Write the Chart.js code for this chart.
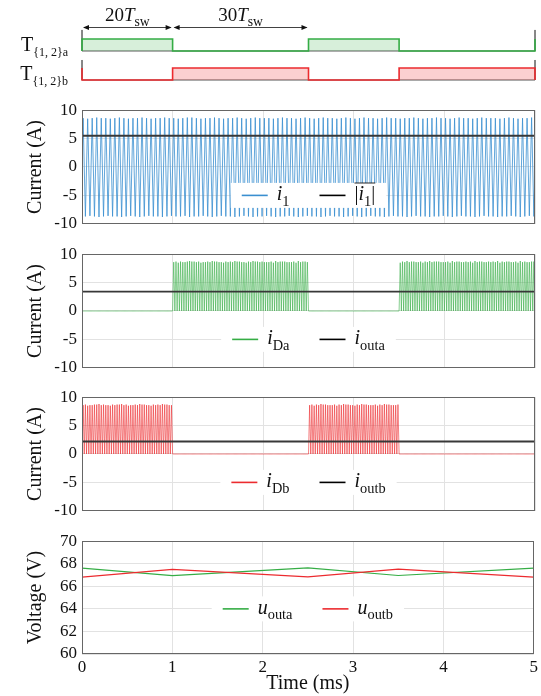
<!DOCTYPE html>
<html>
<head>
<meta charset="utf-8">
<script src="https://cdn.jsdelivr.net/npm/chart.js@4.4.1/dist/chart.umd.min.js"></script>
<style>
body{margin:0;background:#fff;}
#wrap{position:relative;width:541px;height:696px;overflow:hidden;}
canvas{position:absolute;left:0;}
</style>
</head>
<body>
<div id="wrap">
<canvas id="gate" width="541" height="95" style="top:0"></canvas>
<canvas id="c1" width="541" height="144" style="top:95px"></canvas>
<canvas id="c2" width="541" height="144" style="top:239px"></canvas>
<canvas id="c3" width="541" height="144" style="top:382px"></canvas>
<canvas id="c4" width="541" height="170" style="top:526px"></canvas>
</div>
<script>
// ---- data ----
const T_SW = 0.05;                       // ms, 20 T_sw = 1 ms
const timeTicks = [0, 1, 2, 3, 4, 5];
const currentTicks = [-10, -5, 0, 5, 10];
const voltageTicks = [60, 62, 64, 66, 68, 70];

// switch states between the edges (1 = on)
const gateEdges = [0, 1, 2.5, 3.5, 5];
const gateA = [1, 0, 1, 0];
const gateB = [0, 1, 0, 1];

// i1: positive and negative peak of every switching period (A)
const i1Peaks = [
8.6,8.5,8.6,8.7,8.6,8.6,8.5,8.6,8.7,8.6,
8.5,8.6,8.6,8.7,8.6,8.5,8.6,8.6,8.7,8.6,
8.6,8.5,8.6,8.7,8.7,8.6,8.5,8.6,8.6,8.7,
8.6,8.5,8.6,8.6,8.7,8.6,8.5,8.6,8.7,8.6,
8.6,8.6,8.5,8.6,8.7,8.6,8.6,8.5,8.6,8.7,
8.6,8.5,8.6,8.7,8.6,8.6,8.5,8.6,8.7,8.6,
8.5,8.6,8.7,8.6,8.6,8.5,8.6,8.7,8.6,8.6,
8.5,8.6,8.6,8.7,8.6,8.5,8.6,8.6,8.7,8.6,
8.6,8.5,8.6,8.7,8.6,8.6,8.5,8.6,8.7,8.6,
8.6,8.6,8.5,8.6,8.7,8.6,8.5,8.6,8.6,8.7
];
const i1Valleys = [
-8.7,-8.6,-8.7,-8.8,-8.7,-8.6,-8.7,-8.7,-8.8,-8.7,
-8.6,-8.7,-8.8,-8.7,-8.6,-8.7,-8.7,-8.8,-8.7,-8.6,
-8.7,-8.7,-8.6,-8.8,-8.7,-8.7,-8.6,-8.7,-8.8,-8.7,
-8.6,-8.7,-8.7,-8.8,-8.7,-8.6,-8.7,-8.8,-8.7,-8.7,
-8.6,-8.7,-8.8,-8.7,-8.7,-8.6,-8.7,-8.8,-8.7,-8.6,
-8.7,-8.7,-8.8,-8.7,-8.6,-8.7,-8.7,-8.8,-8.7,-8.6,
-8.7,-8.8,-8.7,-8.6,-8.7,-8.7,-8.8,-8.7,-8.6,-8.7,
-8.7,-8.8,-8.7,-8.6,-8.7,-8.7,-8.8,-8.7,-8.7,-8.6,
-8.7,-8.8,-8.7,-8.6,-8.7,-8.7,-8.8,-8.7,-8.6,-8.7,
-8.7,-8.8,-8.7,-8.7,-8.6,-8.7,-8.8,-8.7,-8.6,-8.7
];

// averaged currents (A)
const meanTimes = [0, 5];
const meanAbsI1 = [5.5, 5.5];
const iOuta = [3.4, 3.4];
const iOutb = [2.2, 2.2];

// output voltages (V)
const uTimes = [0, 1, 2.5, 3.5, 5];
const uOuta = [67.62, 66.95, 67.63, 66.96, 67.62];
const uOutb = [66.82, 67.50, 66.83, 67.52, 66.82];

// ---- styling ----
const FONT = "'Liberation Serif', 'DejaVu Serif', serif";
const BLUE = '#3a8fd0';
const GREEN = '#35ad45';
const RED = '#ec2b2f';
const DARK = '#383838';
const GRID = '#e2e2e2';
const TXT = '#111111';

// levels of the two gate rows in the top strip
const LVL = {aLo: 2.417, aHi: 3.417, aTick: 4.17, bLo: 0, bHi: 1, bTick: 1.667, arrow: 4.417, text: 5.4};

function xy(ts, vs){ return ts.map((t, i) => ({x: t, y: vs[i]})); }

function stateAt(states, t){
  for(let i = 0; i < states.length; i++){
    if(t >= gateEdges[i] && t < gateEdges[i + 1]) return states[i];
  }
  return states[states.length - 1];
}

function stairs(states, lo, hi){
  const lv = s => s ? hi : lo;
  const pts = [{x: gateEdges[0], y: lv(1 - states[0])}];
  states.forEach((s, i) => {
    pts.push({x: gateEdges[i], y: lv(s)});
    pts.push({x: gateEdges[i + 1], y: lv(s)});
  });
  pts.push({x: gateEdges[gateEdges.length - 1], y: lv(1 - states[states.length - 1])});
  return pts;
}

function i1Points(){
  const pts = [{x: 0, y: 0}];
  i1Peaks.forEach((p, k) => {
    pts.push({x: (k + 0.25) * T_SW, y: p});
    pts.push({x: (k + 0.75) * T_SW, y: i1Valleys[k]});
  });
  pts.push({x: i1Peaks.length * T_SW, y: 0});
  return pts;
}

// rectified |i1| while the leg's own switches are off
function diodePoints(states){
  const pts = [];
  i1Peaks.forEach((p, k) => {
    [p, i1Valleys[k]].forEach((v, h) => {
      const t0 = (k + h * 0.5) * T_SW;
      const tm = t0 + T_SW / 4;
      pts.push({x: t0, y: 0});
      pts.push({x: tm, y: stateAt(states, tm) ? 0 : Math.abs(v)});
    });
  });
  pts.push({x: i1Peaks.length * T_SW, y: 0});
  return pts;
}

// ---- small text helpers (base + subscript) ----
function partFont(p, size){
  return (p.it ? 'italic ' : '') + (p.sub ? size * (p.ss || 0.72) : size) + 'px ' + FONT;
}
function richWidth(ctx, parts, size){
  let w = 0;
  parts.forEach(p => { ctx.font = partFont(p, size); w += ctx.measureText(p.t).width; });
  return w;
}
function drawRich(ctx, parts, x, y, size){
  let cx = x;
  ctx.textAlign = 'left';
  ctx.textBaseline = 'alphabetic';
  parts.forEach(p => {
    ctx.font = partFont(p, size);
    ctx.fillText(p.t, cx, y + (p.sub ? size * 0.27 : 0));
    cx += ctx.measureText(p.t).width;
  });
  return cx - x;
}

const frame = {
  id: 'frame',
  afterDraw(chart){
    const a = chart.chartArea, ctx = chart.ctx;
    ctx.save();
    ctx.strokeStyle = '#666';
    ctx.lineWidth = 1;
    ctx.strokeRect(Math.round(a.left) + 0.5, Math.round(a.top) + 0.5, Math.round(a.width) - 1, Math.round(a.height) - 1);
    ctx.restore();
  }
};

const mathLegend = {
  id: 'mathLegend',
  afterDatasetsDraw(chart, args, opts){
    if(!opts || !opts.items) return;
    const ctx = chart.ctx, a = chart.chartArea;
    const size = 20, lineLen = 26, gap = 9, itemGap = 30, padX = 11, h = 25;
    const items = Array.from(opts.items);
    const widths = items.map(it => richWidth(ctx, it.parts, size));
    const total = padX * 2 + widths.reduce((s, w) => s + lineLen + gap + w, 0) + itemGap * (items.length - 1);
    const cy = chart.scales.y.getPixelForValue(opts.at);
    let x = (a.left + a.right) / 2 - total / 2;
    ctx.save();
    ctx.fillStyle = '#fff';
    ctx.fillRect(x, cy - h / 2, total, h);
    x += padX;
    items.forEach((it, i) => {
      ctx.strokeStyle = it.color;
      ctx.lineWidth = 1.6;
      ctx.beginPath(); ctx.moveTo(x, cy); ctx.lineTo(x + lineLen, cy); ctx.stroke();
      x += lineLen + gap;
      ctx.fillStyle = TXT;
      drawRich(ctx, it.parts, x, cy + size * 0.25, size);
      if(it.bar){
        ctx.strokeStyle = TXT; ctx.lineWidth = 0.9;
        ctx.beginPath(); ctx.moveTo(x, cy - size * 0.62); ctx.lineTo(x + widths[i], cy - size * 0.62); ctx.stroke();
      }
      x += widths[i] + itemGap;
    });
    ctx.restore();
  }
};

function arrowHead(ctx, x, y, dir){
  ctx.beginPath();
  ctx.moveTo(x, y);
  ctx.lineTo(x - dir * 6, y - 2.5);
  ctx.lineTo(x - dir * 6, y + 2.5);
  ctx.closePath();
  ctx.fill();
}

const gateText = {
  id: 'gateText',
  afterDraw(chart){
    const ctx = chart.ctx, xs = chart.scales.x, ys = chart.scales.y;
    ctx.save();
    ctx.fillStyle = TXT;
    [['a', LVL.aLo, LVL.aHi], ['b', LVL.bLo, LVL.bHi]].forEach(([s, lo, hi]) => {
      const parts = [{t: 'T'}, {t: '{1, 2}' + s, sub: true, ss: 0.6}];
      const w = richWidth(ctx, parts, 20);
      drawRich(ctx, parts, chart.chartArea.left - 14 - w, ys.getPixelForValue((lo + hi) / 2) + 6, 20);
    });
    const ay = Math.round(ys.getPixelForValue(LVL.arrow)) + 0.5;
    for(let i = 0; i < 2; i++){
      const x0 = xs.getPixelForValue(gateEdges[i]), x1 = xs.getPixelForValue(gateEdges[i + 1]);
      ctx.strokeStyle = TXT; ctx.lineWidth = 0.8;
      ctx.beginPath(); ctx.moveTo(x0 + 2, ay); ctx.lineTo(x1 - 2, ay); ctx.stroke();
      arrowHead(ctx, x0 + 1, ay, -1);
      arrowHead(ctx, x1 - 1, ay, 1);
      const n = Math.round((gateEdges[i + 1] - gateEdges[i]) / T_SW);
      const parts = [{t: String(n)}, {t: 'T', it: true}, {t: 'sw', sub: true}];
      const w = richWidth(ctx, parts, 19);
      drawRich(ctx, parts, (x0 + x1) / 2 - w / 2, ys.getPixelForValue(LVL.text) + 6, 19);
    }
    ctx.restore();
  }
};

function timeAxis(labels){
  return {
    type: 'linear', min: 0, max: 5,
    afterBuildTicks: s => { s.ticks = timeTicks.map(v => ({value: v})); },
    ticks: {display: labels, autoSkip: false, font: {family: FONT, size: 17}, color: TXT, padding: 3, maxRotation: 0},
    grid: {color: GRID, drawTicks: false},
    border: {display: false},
    title: {display: labels, text: 'Time (ms)', font: {family: FONT, size: 20}, color: TXT, padding: {top: 0, bottom: 0}},
    afterFit: s => { s.height = labels ? 42 : 0; }
  };
}
function valueAxis(ticks, title){
  return {
    type: 'linear', min: ticks[0], max: ticks[ticks.length - 1],
    afterBuildTicks: s => { s.ticks = ticks.map(v => ({value: v})); },
    ticks: {autoSkip: false, font: {family: FONT, size: 17}, color: TXT, padding: 5},
    grid: {color: GRID, drawTicks: false},
    border: {display: false},
    title: {display: true, text: title, font: {family: FONT, size: 20}, color: TXT, padding: {top: 24, bottom: 0}},
    afterFit: s => { s.width = 82; }
  };
}
function baseOptions(xAxis, yAxis, legend, bottomPad){
  return {
    responsive: false, animation: false, events: [],
    layout: {padding: {left: 0, right: 6, top: 15, bottom: bottomPad}},
    scales: {x: xAxis, y: yAxis},
    elements: {point: {radius: 0}, line: {tension: 0}},
    plugins: {legend: {display: false}, tooltip: {enabled: false}, mathLegend: legend}
  };
}
function line(data, color, width, order){
  return {data, borderColor: color, borderWidth: width, pointRadius: 0, fill: false, order};
}

// ---- gate strip ----
new Chart(document.getElementById('gate'), {
  type: 'line',
  data: {datasets: [
    {data: [{x: 0, y: LVL.aLo}, {x: 5, y: LVL.aLo}], borderColor: '#555', borderWidth: 1, pointRadius: 0, clip: false, order: 3},
    {data: [{x: 0, y: LVL.bLo}, {x: 5, y: LVL.bLo}], borderColor: '#555', borderWidth: 1, pointRadius: 0, clip: false, order: 3},
    {data: [{x: 0, y: LVL.aTick}, {x: 0, y: LVL.aLo}, {x: 0, y: null}, {x: 5, y: LVL.aTick}, {x: 5, y: LVL.aLo}],
     borderColor: '#777', borderWidth: 1, pointRadius: 0, spanGaps: false, clip: false, order: 3},
    {data: [{x: 0, y: LVL.bTick}, {x: 0, y: LVL.bLo}, {x: 0, y: null}, {x: 5, y: LVL.bTick}, {x: 5, y: LVL.bLo}],
     borderColor: '#777', borderWidth: 1, pointRadius: 0, spanGaps: false, clip: false, order: 3},
    {data: stairs(gateA, LVL.aLo, LVL.aHi), borderColor: GREEN, borderWidth: 1.6, pointRadius: 0, clip: false,
     fill: {value: LVL.aLo}, backgroundColor: 'rgba(53,173,69,0.2)', order: 1},
    {data: stairs(gateB, LVL.bLo, LVL.bHi), borderColor: RED, borderWidth: 1.6, pointRadius: 0, clip: false,
     fill: {value: LVL.bLo}, backgroundColor: 'rgba(236,43,47,0.22)', order: 1}
  ]},
  options: {
    responsive: false, animation: false, events: [],
    layout: {padding: {left: 82, right: 6, top: 0, bottom: 0}},
    scales: {
      x: {type: 'linear', min: 0, max: 5, display: false},
      y: {type: 'linear', min: -1.25, max: 6.667, display: false}
    },
    plugins: {legend: {display: false}, tooltip: {enabled: false}}
  },
  plugins: [gateText]
});

// ---- i1 ----
new Chart(document.getElementById('c1'), {
  type: 'line',
  data: {datasets: [
    line(xy(meanTimes, meanAbsI1), DARK, 1.8, 0),
    line(i1Points(), BLUE, 0.8, 1)
  ]},
  options: baseOptions(timeAxis(false), valueAxis(currentTicks, 'Current (A)'), {at: -5, items: [
    {color: BLUE, parts: [{t: 'i', it: true}, {t: '1', sub: true}]},
    {color: '#000', bar: true, parts: [{t: '|'}, {t: 'i', it: true}, {t: '1', sub: true}, {t: '|'}]}
  ]}, 15),
  plugins: [mathLegend, frame]
});

// ---- i_Da (conducts while T_{1,2}a is off) ----
new Chart(document.getElementById('c2'), {
  type: 'line',
  data: {datasets: [
    line(xy(meanTimes, iOuta), DARK, 1.8, 0),
    line(diodePoints(gateA), GREEN, 0.6, 1)
  ]},
  options: baseOptions(timeAxis(false), valueAxis(currentTicks, 'Current (A)'), {at: -5, items: [
    {color: GREEN, parts: [{t: 'i', it: true}, {t: 'Da', sub: true}]},
    {color: '#000', parts: [{t: 'i', it: true}, {t: 'outa', sub: true}]}
  ]}, 15),
  plugins: [mathLegend, frame]
});

// ---- i_Db (conducts while T_{1,2}b is off) ----
new Chart(document.getElementById('c3'), {
  type: 'line',
  data: {datasets: [
    line(xy(meanTimes, iOutb), DARK, 1.8, 0),
    line(diodePoints(gateB), RED, 0.6, 1)
  ]},
  options: baseOptions(timeAxis(false), valueAxis(currentTicks, 'Current (A)'), {at: -5, items: [
    {color: RED, parts: [{t: 'i', it: true}, {t: 'Db', sub: true}]},
    {color: '#000', parts: [{t: 'i', it: true}, {t: 'outb', sub: true}]}
  ]}, 15),
  plugins: [mathLegend, frame]
});

// ---- output voltages ----
new Chart(document.getElementById('c4'), {
  type: 'line',
  data: {datasets: [
    line(xy(uTimes, uOuta), GREEN, 1.2, 1),
    line(xy(uTimes, uOutb), RED, 1.2, 0)
  ]},
  options: baseOptions(timeAxis(true), valueAxis(voltageTicks, 'Voltage (V)'), {at: 64.0, items: [
    {color: GREEN, parts: [{t: 'u', it: true}, {t: 'outa', sub: true}]},
    {color: RED, parts: [{t: 'u', it: true}, {t: 'outb', sub: true}]}
  ]}, 0),
  plugins: [mathLegend, frame]
});
</script>
</body>
</html>
